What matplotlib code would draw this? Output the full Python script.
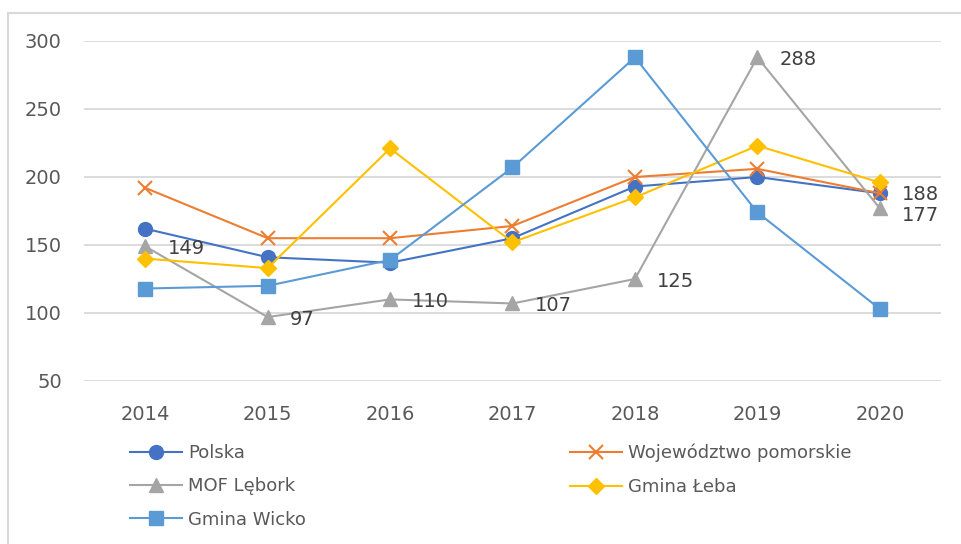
import matplotlib.pyplot as plt
from matplotlib.lines import Line2D

## Données ##
lata = ['2014', '2015', '2016', '2017', '2018', '2019', '2020']
polska = [162, 141, 137, 155, 193, 200, 188]
pomorskie = [192, 155, 155, 164, 200, 206, 188]
mof_lebork = [149, 97, 110, 107, 125, 288, 177]
gmina_leba = [140, 133, 221, 152, 185, 223, 196]
gmina_wicko = [118, 120, 139, 207, 288, 174, 103]

plt.rcParams['font.family'] = ['DejaVu Sans']

fig = plt.figure(figsize=(9.62, 5.44), dpi=100)
ax = fig.add_axes([84/962, 1-381/544, (941-84)/962, (381-41)/544])

x = range(len(lata))
lw = 1.5
l1, = ax.plot(x, polska, color='#4472C4', lw=lw, marker='o', ms=10, label='Polska')
l2, = ax.plot(x, pomorskie, color='#ED7D31', lw=lw, marker='x', ms=10, mew=1.5,
              label='Województwo pomorskie')
l3, = ax.plot(x, mof_lebork, color='#A5A5A5', lw=lw, marker='^', ms=10, label='MOF Lębork')
l4, = ax.plot(x, gmina_leba, color='#FFC000', lw=lw, marker='D', ms=8, label='Gmina Łeba')
l5, = ax.plot(x, gmina_wicko, color='#5B9BD5', lw=lw, marker='s', ms=10, label='Gmina Wicko')

# etykiety danych MOF Lębork + 188
for i, v in enumerate(mof_lebork):
    dy = -5 if i == 6 else -1.5
    ax.annotate(str(v), (i, v), xytext=(16, dy), textcoords='offset points',
                ha='left', va='center', fontsize=14, color='#404040')
ax.annotate(str(pomorskie[6]), (6, pomorskie[6]), xytext=(16, -1), textcoords='offset points',
            ha='left', va='center', fontsize=14, color='#404040')

ax.set_xlim(-0.5, 6.5)
ax.set_ylim(50, 300)
ax.set_yticks([50, 100, 150, 200, 250, 300])
ax.set_xticks(list(x))
ax.set_xticklabels(lata)
ax.grid(axis='y', color='#D9D9D9', lw=1.3)
ax.set_axisbelow(True)
for s in ax.spines.values():
    s.set_visible(False)
ax.tick_params(axis='both', length=0, labelsize=14, colors='#595959')
ax.tick_params(axis='x', pad=17)
ax.tick_params(axis='y', pad=16)

# ramka
fig.add_artist(Line2D([8/962, 0.999], [1-13/544, 1-13/544], color='#D9D9D9', lw=1.5))
fig.add_artist(Line2D([8/962, 8/962], [0, 1-13/544], color='#D9D9D9', lw=1.5))

leg_kw = dict(loc='upper left', frameon=False, fontsize=13, handlelength=2.9,
              handletextpad=0.3, labelspacing=0.85, borderpad=0, borderaxespad=0,
              labelcolor='#595959', numpoints=1)
fig.legend(handles=[l1, l3, l5], bbox_to_anchor=(130/962, 1-444/544), **leg_kw)
fig.legend(handles=[l2, l4], bbox_to_anchor=(570/962, 1-444/544), **leg_kw)

plt.savefig('out.png', dpi=100)
